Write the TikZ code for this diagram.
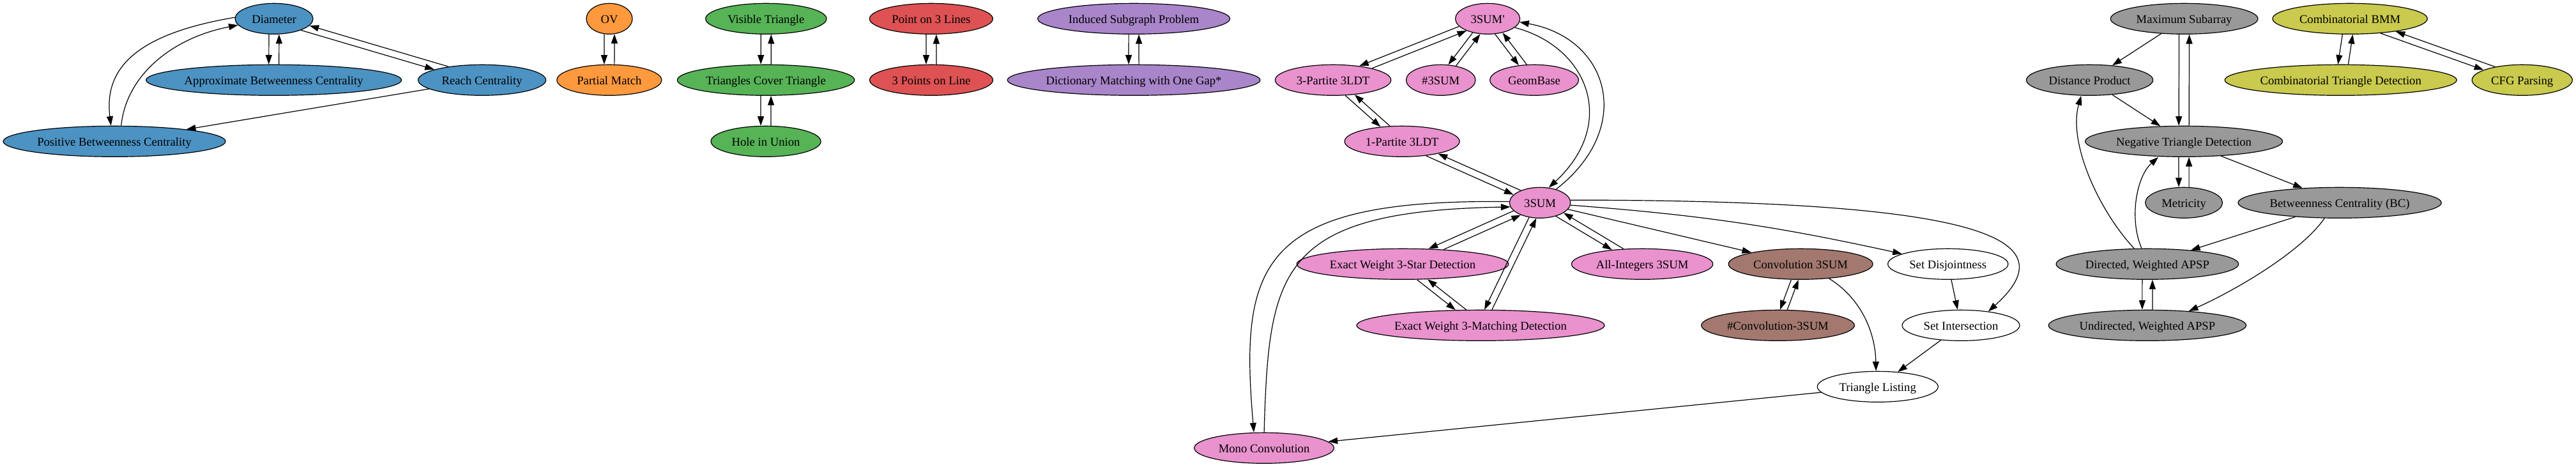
\documentclass[tikz,border=0pt]{standalone}
\usetikzlibrary{shapes.geometric,arrows.meta,calc,intersections}
\font\gvfont="Liberation Serif" at 14pt
\definecolor{cB}{HTML}{4C92C3}
\definecolor{cO}{HTML}{FF993E}
\definecolor{cG}{HTML}{56B356}
\definecolor{cR}{HTML}{DE5253}
\definecolor{cP}{HTML}{A985CA}
\definecolor{cN}{HTML}{A3786F}
\definecolor{cK}{HTML}{E992CE}
\definecolor{cY}{HTML}{999999}
\definecolor{cL}{HTML}{C9CA4E}
\newcommand\borderpath[1]{%
  \path[name path global=p#1] let \p1=($(#1.east)-(#1.center)$), \p2=($(#1.north)-(#1.center)$) in (#1.center) ellipse [x radius=\x1, y radius=\y2];}
\newcommand\pairedge[3][4pt]{%
  \path[name path global=tmpln] ($(#2)!#1!-90:(#3)$) -- ($(#3)!#1!90:(#2)$);
  \path[name intersections={of=p#2 and tmpln, by=ia}];
  \path[name intersections={of=p#3 and tmpln, by=ib}];
  \draw[lnk] (ia) -- (ib);}
\begin{document}
\begin{tikzpicture}[x=1pt,y=1pt,
  nd/.style={ellipse, draw, line width=0.9pt, inner xsep=0pt, inner ysep=0pt,
    minimum height=36pt, text height=12pt, text depth=1pt, font=\gvfont},
  lnk/.style={draw, line width=0.9pt, -{Triangle[length=11pt,width=7.5pt]}}]
\useasboundingbox (0,0) rectangle (3024.75,548);
\fill[white] (0,0) rectangle (3024.75,548);
% blue
\node[nd,fill=cB,minimum width=91.5pt] (dia) at (321.8,526) {Diameter};
\node[nd,fill=cB,minimum width=300pt] (abc) at (321.5,454) {Approximate Betweenness Centrality};
\node[nd,fill=cB,minimum width=150pt] (rch) at (566,454) {Reach Centrality};
\node[nd,fill=cB,minimum width=261pt] (pbc) at (134.3,382) {Positive Betweenness Centrality};
% orange
\node[nd,fill=cO,minimum width=54pt] (ov) at (715.5,526) {OV};
\node[nd,fill=cO,minimum width=123pt] (pm) at (715.4,454) {Partial Match};
% green
\node[nd,fill=cG,minimum width=142pt] (vt) at (899.5,526) {Visible Triangle};
\node[nd,fill=cG,minimum width=208pt] (tct) at (899.3,454) {Triangles Cover Triangle};
\node[nd,fill=cG,minimum width=129pt] (hiu) at (899.3,382) {Hole in Union};
% red
\node[nd,fill=cR,minimum width=144.7pt] (p3l) at (1093.4,526) {Point on 3 Lines};
\node[nd,fill=cR,minimum width=144.7pt] (tpl) at (1093.5,454) {3 Points on Line};
% purple
\node[nd,fill=cP,minimum width=225.7pt] (isp) at (1331.3,526) {Induced Subgraph Problem};
\node[nd,fill=cP,minimum width=296.8pt] (dmg) at (1331.3,454) {Dictionary Matching with One Gap*};
% pink
\node[nd,fill=cK,minimum width=75.8pt] (sp) at (1746.8,526) {3SUM'};
\node[nd,fill=cK,minimum width=136pt] (tp3) at (1565.3,454) {3-Partite 3LDT};
\node[nd,fill=cK,minimum width=81.4pt] (n3s) at (1691.8,454) {\#3SUM};
\node[nd,fill=cK,minimum width=104pt] (gb) at (1801.5,454) {GeomBase};
\node[nd,fill=cK,minimum width=135pt] (op3) at (1646.3,382) {1-Partite 3LDT};
\node[nd,fill=cK,minimum width=71.6pt] (s3) at (1808.3,310) {3SUM};
\node[nd,fill=cK,minimum width=248.7pt] (ews) at (1647,238) {Exact Weight 3-Star Detection};
\node[nd,fill=cK,minimum width=166pt] (ai) at (1928.3,238) {All-Integers 3SUM};
\node[nd,fill=cK,minimum width=291pt] (ewm) at (1738.5,166) {Exact Weight 3-Matching Detection};
\node[nd,fill=cK,minimum width=164pt] (mono) at (1484.3,22) {Mono Convolution};
% brown
\node[nd,fill=cN,minimum width=169.5pt] (cv) at (2114.3,238) {Convolution 3SUM};
\node[nd,fill=cN,minimum width=179.7pt] (ncv) at (2087.6,166) {\#Convolution-3SUM};
% white
\node[nd,fill=white,minimum width=141.2pt] (sd) at (2287.3,238) {Set Disjointness};
\node[nd,fill=white,minimum width=138pt] (si) at (2302.5,166) {Set Intersection};
\node[nd,fill=white,minimum width=141.8pt] (tl) at (2204.8,94) {Triangle Listing};
% gray
\node[nd,fill=cY,minimum width=173pt] (ms) at (2564.7,526) {Maximum Subarray};
\node[nd,fill=cY,minimum width=148.6pt] (dp) at (2453.7,454) {Distance Product};
\node[nd,fill=cY,minimum width=231.7pt] (ntd) at (2564.3,382) {Negative Triangle Detection};
\node[nd,fill=cY,minimum width=90.6pt] (met) at (2564.3,310) {Metricity};
\node[nd,fill=cY,minimum width=238.7pt] (bc) at (2747.3,310) {Betweenness Centrality (BC)};
\node[nd,fill=cY,minimum width=214.2pt] (dw) at (2521.4,238) {Directed, Weighted APSP};
\node[nd,fill=cY,minimum width=232pt] (uw) at (2521.4,166) {Undirected, Weighted APSP};
% olive
\node[nd,fill=cL,minimum width=181.8pt] (bmm) at (2759.3,526) {Combinatorial BMM};
\node[nd,fill=cL,minimum width=272.3pt] (ctd) at (2748.5,454) {Combinatorial Triangle Detection};
\node[nd,fill=cL,minimum width=117.8pt] (cfg) at (2961.5,454) {CFG Parsing};
% border paths
\borderpath{dia}\borderpath{abc}\borderpath{rch}
\borderpath{ov}\borderpath{pm}
\borderpath{vt}\borderpath{tct}\borderpath{hiu}
\borderpath{p3l}\borderpath{tpl}
\borderpath{isp}\borderpath{dmg}
\borderpath{sp}\borderpath{tp3}\borderpath{n3s}\borderpath{gb}\borderpath{op3}
\borderpath{s3}\borderpath{ews}\borderpath{ewm}\borderpath{ai}
\borderpath{cv}\borderpath{ncv}
\borderpath{ms}\borderpath{ntd}\borderpath{met}\borderpath{dw}\borderpath{uw}
\borderpath{bmm}\borderpath{ctd}\borderpath{cfg}
% paired edges
\pairedge[6pt]{dia}{abc}\pairedge[6pt]{abc}{dia}
\pairedge{dia}{rch}\pairedge{rch}{dia}
\pairedge[6pt]{ov}{pm}\pairedge[6pt]{pm}{ov}
\pairedge[6pt]{vt}{tct}\pairedge[6pt]{tct}{vt}
\pairedge[6pt]{tct}{hiu}\pairedge[6pt]{hiu}{tct}
\pairedge[6pt]{p3l}{tpl}\pairedge[6pt]{tpl}{p3l}
\pairedge[6pt]{isp}{dmg}\pairedge[6pt]{dmg}{isp}
\pairedge{sp}{tp3}\pairedge{tp3}{sp}
\pairedge{sp}{n3s}\pairedge{n3s}{sp}
\pairedge{sp}{gb}\pairedge{gb}{sp}
\pairedge{tp3}{op3}\pairedge{op3}{tp3}
\pairedge{op3}{s3}\pairedge{s3}{op3}
\pairedge{s3}{ews}\pairedge{ews}{s3}
\pairedge{s3}{ewm}\pairedge{ewm}{s3}
\pairedge{ews}{ewm}\pairedge{ewm}{ews}
\pairedge{s3}{ai}\pairedge{ai}{s3}
\pairedge{cv}{ncv}\pairedge{ncv}{cv}
\pairedge[6pt]{ms}{ntd}\pairedge[6pt]{ntd}{ms}
\pairedge[6pt]{ntd}{met}\pairedge[6pt]{met}{ntd}
\pairedge[6pt]{dw}{uw}\pairedge[6pt]{uw}{dw}
\pairedge[6pt]{bmm}{ctd}\pairedge[6pt]{ctd}{bmm}
\pairedge{bmm}{cfg}\pairedge{cfg}{bmm}
% curved pairs
\draw[lnk] (dia.178) .. controls (160,508) and (122,468) .. ([xshift=-4pt]pbc.north);
\draw[lnk] ([xshift=8pt]pbc.north) .. controls (148,458) and (200,503) .. (dia.190);
\draw[lnk] (sp.-18) .. controls (1865,493) and (1900,403) .. (s3.60);
\draw[lnk] (s3.40) .. controls (1920,398) and (1890,503) .. (sp.-6);
\draw[lnk] (s3.178) .. controls (1480,315) and (1455,240) .. ([xshift=-12pt]mono.north);
\draw[lnk] (mono.north) .. controls (1490,230) and (1500,300) .. (s3.188);
% single edges
\draw[lnk] (rch) -- (pbc);
\draw[lnk] (s3) -- (cv);
\draw[lnk] (s3) to[bend left=4] (sd);
\draw[lnk] (s3.5) .. controls (2330,313) and (2430,268) .. (si.27);
\draw[lnk] (sd) -- (si);
\draw[lnk] (si) -- (tl);
\draw[lnk] (cv.-27) .. controls (2185,198) and (2202,158) .. ([xshift=-2pt]tl.north);
\draw[lnk] (tl) -- (mono);
\draw[lnk] (ms) -- (dp);
\draw[lnk] (dp) -- (ntd);
\draw[lnk] (ntd) -- (bc);
\draw[lnk] (bc) -- (dw);
\draw[lnk] ([xshift=-18pt]bc.south) .. controls (2700,250) and (2620,205) .. (uw.19);
\draw[lnk] ([xshift=-15.6pt]dw.north) .. controls (2465,300) and (2428,380) .. ([xshift=-10pt]dp.south);
\draw[lnk] ([xshift=-6.7pt]dw.north) .. controls (2500,290) and (2508,340) .. ([xshift=-30pt]ntd.south);
\end{tikzpicture}
\end{document}
